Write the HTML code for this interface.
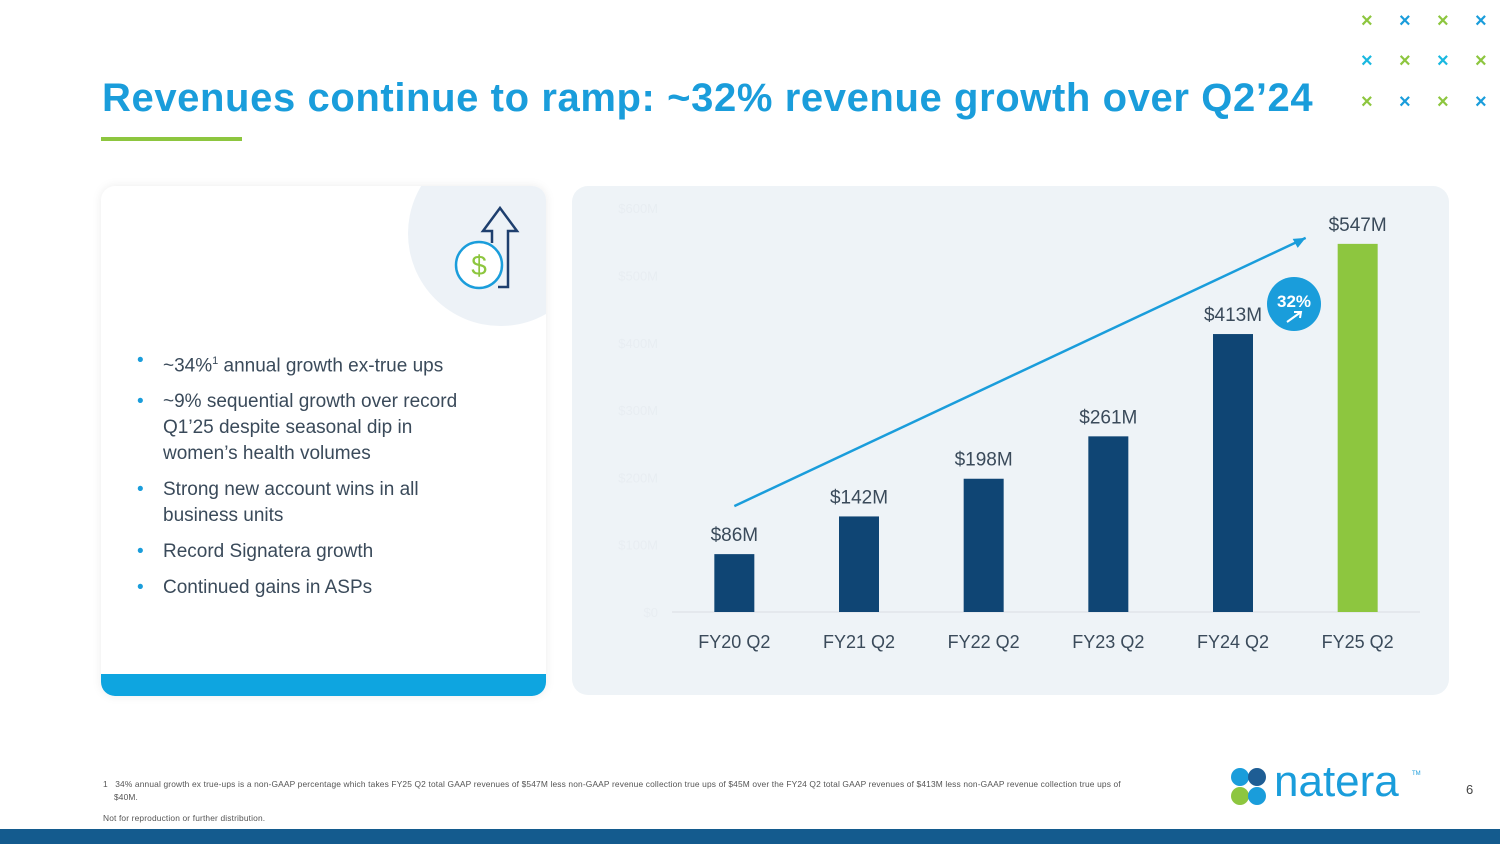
<!DOCTYPE html>
<html><head><meta charset="utf-8"><style>
*{margin:0;padding:0;box-sizing:border-box}
body{width:1500px;height:844px;background:#fff;position:relative;overflow:hidden;font-family:"Liberation Sans",sans-serif}
.abs{position:absolute}
h1{position:absolute;left:102px;top:76px;font-size:40px;font-weight:bold;color:#1a9ddb;letter-spacing:0.6px;white-space:nowrap}
.xm{position:absolute;font-size:20px;font-weight:bold}
ul{list-style:none}
li{position:relative;padding-left:28px;font-size:19px;color:#3a4a5a;line-height:26px;margin-bottom:10px}
li:before{content:"•";position:absolute;left:2px;color:#1a9ddb}
</style></head><body>
<h1>Revenues continue to ramp: ~32% revenue growth over Q2’24</h1>
<div class="abs" style="left:101px;top:137px;width:141px;height:4px;background:#8dc63f"></div>
<div class="abs" style="left:1357px;top:6px;width:145px;height:110px">
<span class="xm" style="left:4px;top:4px;color:#8dc63f">×</span><span class="xm" style="left:42px;top:4px;color:#1a9ddb">×</span><span class="xm" style="left:80px;top:4px;color:#8dc63f">×</span><span class="xm" style="left:118px;top:4px;color:#1a9ddb">×</span>
<span class="xm" style="left:4px;top:44px;color:#1ab8e0">×</span><span class="xm" style="left:42px;top:44px;color:#8dc63f">×</span><span class="xm" style="left:80px;top:44px;color:#1ab8e0">×</span><span class="xm" style="left:118px;top:44px;color:#8dc63f">×</span>
<span class="xm" style="left:4px;top:85px;color:#8dc63f">×</span><span class="xm" style="left:42px;top:85px;color:#1a9ddb">×</span><span class="xm" style="left:80px;top:85px;color:#8dc63f">×</span><span class="xm" style="left:118px;top:85px;color:#1a9ddb">×</span>
</div>

<div class="abs" style="left:101px;top:186px;width:445px;height:510px;background:#fff;border-radius:14px;box-shadow:0 0 10px rgba(0,0,0,0.08);overflow:hidden">
  <div class="abs" style="left:307px;top:-45px;width:185px;height:185px;border-radius:50%;background:#edf2f7"></div>
  <svg class="abs" style="left:345px;top:15px" width="80" height="95" viewBox="0 0 80 95">
    <path d="M52 86 L62 86 L62 30 L71 30 L54 7 L37 30 L46 30 L46 42" fill="none" stroke="#1e3f6e" stroke-width="2.5" stroke-linejoin="miter"/>
    <circle cx="33" cy="64" r="23" fill="#fff" stroke="#1a9ddb" stroke-width="2.5"/>
    <text x="33" y="74" font-size="28" text-anchor="middle" fill="#8dc63f" font-family="Liberation Sans">$</text>
  </svg>
  <ul class="abs" style="left:34px;top:162px;width:345px">
    <li>~34%<sup style="font-size:11px">1</sup> annual growth ex-true ups</li>
    <li>~9% sequential growth over record Q1’25 despite seasonal dip in women’s health volumes</li>
    <li>Strong new account wins in all business units</li>
    <li>Record Signatera growth</li>
    <li>Continued gains in ASPs</li>
  </ul>
  <div class="abs" style="left:0;top:488px;width:445px;height:22px;background:#0ea5e0"></div>
</div>

<div class="abs" style="left:572px;top:186px;width:877px;height:509px;background:#eef3f7;border-radius:16px"></div>
<svg id="chart" class="abs" style="left:0;top:0" width="1500" height="844"></svg>

<div class="abs" style="left:103px;top:778px;width:1030px;font-size:8.4px;color:#555;line-height:13px;letter-spacing:0.15px">
<div style="padding-left:11px;text-indent:-11px">1&nbsp;&nbsp; 34% annual growth ex true-ups is a non-GAAP percentage which takes FY25 Q2 total GAAP revenues of $547M less non-GAAP revenue collection true ups of $45M over the FY24 Q2 total GAAP revenues of $413M less non-GAAP revenue collection true ups of $40M.</div>
<div style="margin-top:8px">Not for reproduction or further distribution.</div></div>

<div class="abs" style="left:1230px;top:765px;width:200px;height:45px">
<svg class="abs" style="left:0;top:2px" width="38" height="40" viewBox="0 0 38 40">
<circle cx="10" cy="10" r="9" fill="#1a9ddb"/><circle cx="27" cy="10" r="9" fill="#1e5d94"/><circle cx="10" cy="29" r="9" fill="#8dc63f"/><circle cx="27" cy="29" r="9" fill="#1a9ddb"/>
</svg>
<span class="abs" style="left:44px;top:-8px;font-size:44px;color:#1a9ddb;letter-spacing:0px">natera</span>
<span class="abs" style="left:182px;top:6px;font-size:6px;color:#1a9ddb">TM</span></div>
<div class="abs" style="left:1466px;top:782px;font-size:13px;color:#444">6</div>
<div class="abs" style="left:0;top:829px;width:1500px;height:15px;background:#145b8e"></div>

<script>
const categories=["FY20 Q2","FY21 Q2","FY22 Q2","FY23 Q2","FY24 Q2","FY25 Q2"];
const revenues=[86,142,198,261,413,547];
const valueLabels=["$86M","$142M","$198M","$261M","$413M","$547M"];
const yTicks=[0,100,200,300,400,500,600];
const yTickLabels=["$0","$100M","$200M","$300M","$400M","$500M","$600M"];
const NS="http://www.w3.org/2000/svg";
const svg=document.getElementById("chart");
const x0=672,x1=1420,yBase=612,pxPer=0.673;
const band=(x1-x0)/categories.length;
const xC=i=>x0+band*(i+0.5);
const yS=v=>yBase-v*pxPer;
function mk(t,a,txt){const e=document.createElementNS(NS,t);for(const k in a)e.setAttribute(k,a[k]);if(txt!=null)e.textContent=txt;svg.appendChild(e);return e;}
yTicks.forEach((v,i)=>{
  const t=mk("text",{x:658,y:yS(v)+5,"text-anchor":"end","font-size":13,fill:"#e8edf2","font-family":"Liberation Sans"},yTickLabels[i]);
  
  
});
const ax=mk("line",{x1:x0,x2:x1,y1:yBase,y2:yBase,stroke:"#d9dee3","stroke-width":1});


categories.forEach((c,i)=>{
  const b=mk("rect",{x:xC(i)-20,y:yS(revenues[i]),width:40,height:revenues[i]*pxPer,fill:i===categories.length-1?"#8dc63f":"#0f4574"});
  
  
  const l=mk("text",{x:xC(i),y:yS(revenues[i])-13,"text-anchor":"middle","font-size":19,fill:"#3a4a5a","font-family":"Liberation Sans"},valueLabels[i]);
  
  
  const cl=mk("text",{x:xC(i),y:648,"text-anchor":"middle","font-size":18,fill:"#3a4a5a","font-family":"Liberation Sans"},c);
  
  
});
const n=revenues.length-1;
const tl=mk("line",{x1:xC(0),y1:yS(revenues[0])-48,x2:xC(n)-52,y2:yS(revenues[n])-6,stroke:"#1a9ddb","stroke-width":2.5});


const ex=xC(n)-52,ey=yS(revenues[n])-6;
const ah=mk("polygon",{points:`${ex},${ey} ${ex-13},${ey+1} ${ex-8},${ey+10}`,fill:"#1a9ddb"});


const bc=mk("circle",{cx:1294,cy:304,r:27,fill:"#1a9ddb"});


const bt=mk("text",{x:1294,y:307,"text-anchor":"middle","font-size":17,"font-weight":"bold",fill:"#fff","font-family":"Liberation Sans"},"32%");


const ba=mk("path",{d:"M1287 322 L1301 312 M1294 312 L1301 312 L1300 318",stroke:"#fff","stroke-width":2,fill:"none"});


</script>
</body></html>
